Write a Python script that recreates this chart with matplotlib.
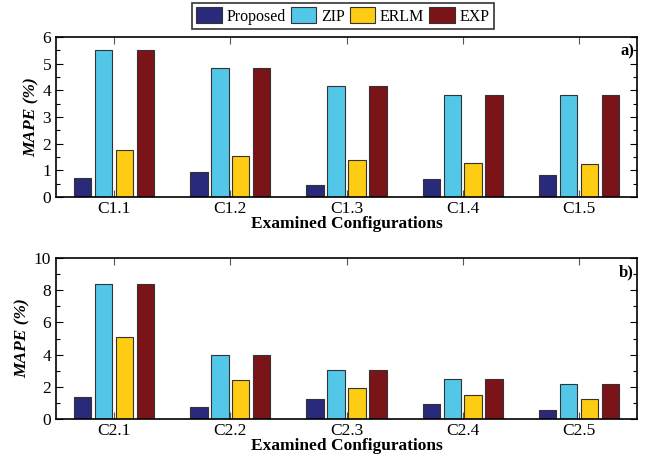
import matplotlib
matplotlib.use("Agg")
import matplotlib.pyplot as plt
import numpy as np

plt.rcParams['font.family'] = ['Liberation Serif', 'DejaVu Serif']
plt.rcParams['mathtext.fontset'] = 'custom'

series = ["Proposed", "ZIP", "ERLM", "EXP"]
colors = ["#2a2a7c", "#52c7e8", "#fecc12", "#7b1418"]

cats_a = ["C1.1", "C1.2", "C1.3", "C1.4", "C1.5"]
prop_a = [0.73, 0.93, 0.46, 0.69, 0.81]
zip_a = [5.50, 4.82, 4.15, 3.84, 3.81]
erlm_a = [1.78, 1.55, 1.39, 1.27, 1.24]
exp_a = [5.50, 4.82, 4.15, 3.84, 3.81]

cats_b = ["C2.1", "C2.2", "C2.3", "C2.4", "C2.5"]
prop_b = [1.37, 0.75, 1.25, 0.95, 0.58]
zip_b = [8.38, 3.99, 3.06, 2.49, 2.18]
erlm_b = [5.11, 2.41, 1.93, 1.47, 1.23]
exp_b = [8.38, 3.99, 3.06, 2.49, 2.18]

fig = plt.figure(figsize=(6.48, 4.57), dpi=100)
ax1 = fig.add_axes([56/648, 1-197/457, 581/648, 160/457])
ax2 = fig.add_axes([56/648, 1-419/457, 581/648, 161/457])

step = 0.18
width = 0.15

def draw(ax, cats, data, ymax, major, minor, tag):
    x = np.arange(1, len(cats)+1)
    handles = []
    for i, (vals, c, name) in enumerate(zip(data, colors, series)):
        h = ax.bar(x + (i-1.5)*step, vals, width, color=c, edgecolor="#333333",
                   linewidth=0.8, label=name, zorder=2)
        handles.append(h)
    ax.set_xlim(0.5, len(cats)+0.5)
    ax.set_ylim(0, ymax)
    ax.set_xticks(x)
    ax.set_xticklabels(cats, fontsize=12.5)
    ax.set_yticks(np.arange(0, ymax+0.01, major))
    ax.set_yticks(np.arange(minor, ymax, major), minor=True)
    ax.tick_params(axis='y', which='major', direction='in', length=5, right=True,
                   labelsize=12.5, width=0.8)
    ax.tick_params(axis='y', which='minor', direction='in', length=3, right=True, width=0.8)
    ax.tick_params(axis='x', which='major', direction='in', length=5, top=True,
                   labelsize=12.5, width=0.8, color="#555555", pad=3)
    ax.set_xlabel("Examined Configurations", fontsize=12.5, fontweight='bold', labelpad=-1)
    ax.set_ylabel("MAPE (%)", fontsize=12.5, fontweight='bold', fontstyle='italic', labelpad=2)
    for s in ax.spines.values():
        s.set_linewidth(1.2)
    ax.text(0.995, 0.96, tag, transform=ax.transAxes, ha='right', va='top',
            fontsize=12, fontweight='bold')
    return handles

h = draw(ax1, cats_a, [prop_a, zip_a, erlm_a, exp_a], 6, 1, 0.5, "a)")
draw(ax2, cats_b, [prop_b, zip_b, erlm_b, exp_b], 10, 2, 1, "b)")

leg = fig.legend(h, series, loc='upper center', bbox_to_anchor=(343/648, 1-3/457), ncol=4,
                 fontsize=11.5, frameon=True, fancybox=False, edgecolor='black',
                 handlelength=1.6, handleheight=1.2, handletextpad=0.3, columnspacing=0.3,
                 borderpad=0.25, borderaxespad=0)
leg.get_frame().set_linewidth(1.2)

fig.savefig("out.png", dpi=100)
